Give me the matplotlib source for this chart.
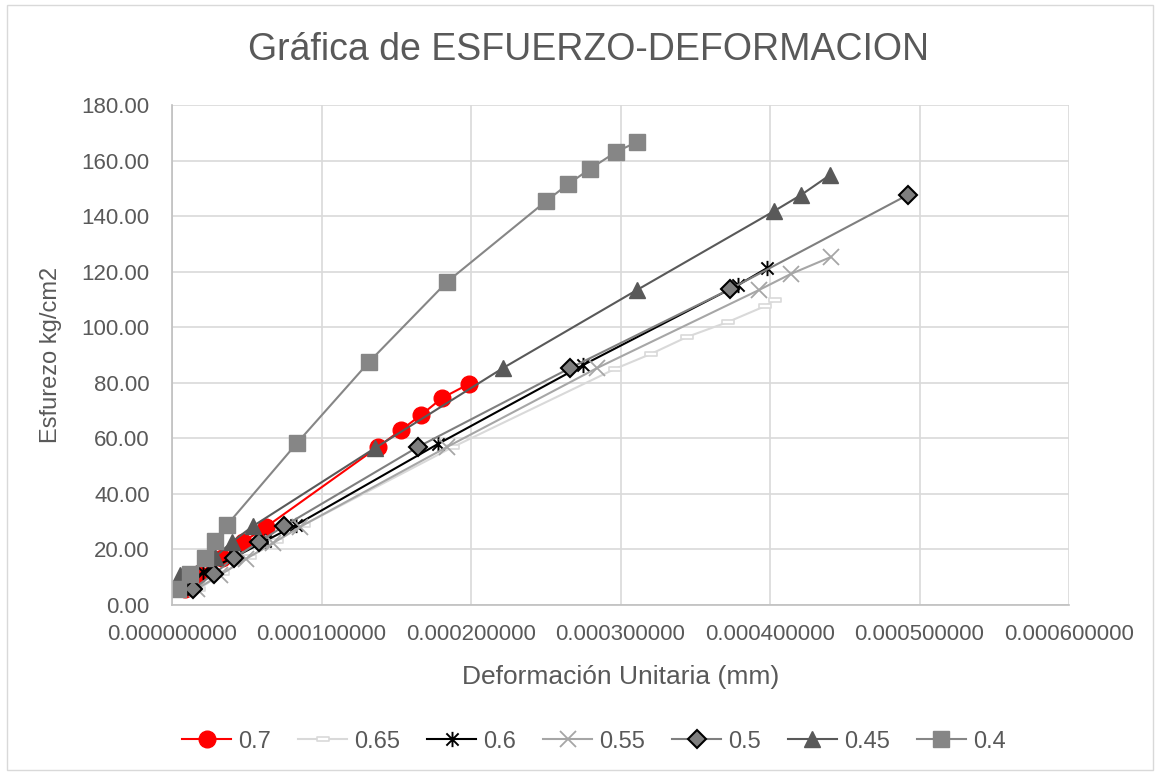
import matplotlib

matplotlib.use("Agg")
import matplotlib.pyplot as plt
from matplotlib.patches import Rectangle
from matplotlib.path import Path
from matplotlib.ticker import FormatStrFormatter, MultipleLocator

plt.rcParams["font.family"] = ["Liberation Sans", "DejaVu Sans"]

TEXT = "#595959"

# strain (mm/mm) and stress (kg/cm2) per water/cement ratio
strain_070 = [0.0000087, 0.0000174, 0.0000334, 0.0000475, 0.0000629,
              0.0001378, 0.0001532, 0.0001666, 0.0001806, 0.0001987]
stress_070 = [5.8, 11.2, 16.9, 22.7, 28.1, 56.9, 63.0, 68.4, 74.5, 79.6]

strain_065 = [0.0000180, 0.0000340, 0.0000520, 0.0000700, 0.0000880, 0.0001880,
              0.0002963, 0.0003204, 0.0003445, 0.0003719, 0.0003967, 0.0004033]
stress_065 = [5.8, 11.5, 17.3, 23.0, 28.8, 56.9, 85.0, 90.4, 96.5, 101.9, 107.6, 109.8]

strain_060 = [0.0000070, 0.0000207, 0.0000421, 0.0000622, 0.0000830,
              0.0001780, 0.0002750, 0.0003786, 0.0003980]
stress_060 = [5.8, 11.9, 17.3, 23.0, 28.8, 58.0, 86.4, 115.2, 121.3]

strain_055 = [0.0000167, 0.0000321, 0.0000495, 0.0000676, 0.0000856,
              0.0001840, 0.0002843, 0.0003926, 0.0004140, 0.0004408]
stress_055 = [5.8, 10.8, 16.6, 22.3, 28.1, 56.9, 85.3, 113.4, 119.2, 125.3]

strain_050 = [0.0000140, 0.0000281, 0.0000415, 0.0000582, 0.0000749,
              0.0001645, 0.0002662, 0.0003732, 0.0004920]
stress_050 = [5.8, 11.2, 16.9, 22.7, 28.4, 56.9, 85.3, 113.7, 147.6]

strain_045 = [0.0000054, 0.0000288, 0.0000401, 0.0000542, 0.0001358,
              0.0002214, 0.0003110, 0.0004027, 0.0004207, 0.0004401]
stress_045 = [10.8, 17.3, 22.7, 28.4, 56.5, 85.3, 113.4, 141.8, 147.6, 154.8]

strain_040 = [0.0000040, 0.0000120, 0.0000221, 0.0000288, 0.0000368, 0.0000836,
              0.0001318, 0.0001839, 0.0002502, 0.0002649, 0.0002796, 0.0002970,
              0.0003110]
stress_040 = [5.8, 11.2, 16.9, 23.0, 28.8, 58.3, 87.5, 116.3, 145.4, 151.5,
              157.0, 163.1, 166.7]

# Excel-like "star" (x with a vertical bar) and "dash" markers
star = Path([(-1, -1), (1, 1), (-1, 1), (1, -1), (0, -1.25), (0, 1.25)],
            [Path.MOVETO, Path.LINETO] * 3)
dash = Path([(-1, -0.4), (1, -0.4), (1, 0.4), (-1, 0.4), (-1, -0.4)],
            [Path.MOVETO, Path.LINETO, Path.LINETO, Path.LINETO, Path.CLOSEPOLY])

series = [
    ("0.7", strain_070, stress_070,
     dict(color="#FF0000", marker="o", ms=12, mfc="#FF0000", mec="#FF0000")),
    ("0.65", strain_065, stress_065,
     dict(color="#D9D9D9", marker=dash, ms=8, mfc="white", mec="#D9D9D9", mew=1.2)),
    ("0.6", strain_060, stress_060,
     dict(color="#000000", marker=star, ms=11, mfc="none", mec="#000000", mew=1.4)),
    ("0.55", strain_055, stress_055,
     dict(color="#A6A6A6", marker="x", ms=11, mec="#A6A6A6", mew=1.3)),
    ("0.5", strain_050, stress_050,
     dict(color="#7F7F7F", marker="D", ms=9, mfc="#7F7F7F", mec="#000000", mew=1.5)),
    ("0.45", strain_045, stress_045,
     dict(color="#595959", marker="^", ms=12, mfc="#595959", mec="#595959")),
    ("0.4", strain_040, stress_040,
     dict(color="#868686", marker="s", ms=11, mfc="#868686", mec="#868686")),
]

fig = plt.figure(figsize=(11.6, 7.75), dpi=100)
ax = fig.add_axes([0.1483, 0.2194, 0.7733, 0.6451])

for name, xs, ys, style in series:
    ax.plot(xs, ys, lw=1.5, label=name, **style)

ax.set_xlim(0, 0.0006)
ax.set_ylim(0, 180)
ax.xaxis.set_major_locator(MultipleLocator(0.0001))
ax.yaxis.set_major_locator(MultipleLocator(20))
ax.xaxis.set_major_formatter(FormatStrFormatter("%.9f"))
ax.yaxis.set_major_formatter(FormatStrFormatter("%.2f"))
ax.grid(True, color="#D9D9D9", lw=1.2)
ax.set_axisbelow(True)
for side in ("top", "right"):
    ax.spines[side].set_visible(False)
for side in ("left", "bottom"):
    ax.spines[side].set_color("#BFBFBF")
    ax.spines[side].set_linewidth(1.2)
ax.tick_params(length=0, labelsize=16, colors=TEXT)
ax.tick_params(axis="y", pad=16)
ax.tick_params(axis="x", pad=14)

# chart title is centred on the whole chart, not on the plot area
fig.text(0.507, 0.935, "Gráfica de ESFUERZO-DEFORMACION", fontsize=27,
         color=TEXT, ha="center", va="center")
ax.set_xlabel("Deformación Unitaria (mm)", fontsize=19, color=TEXT, labelpad=14)
ax.set_ylabel("Esfurezo kg/cm2", fontsize=17, color=TEXT, labelpad=14)

fig.legend(loc="center", bbox_to_anchor=(0.512, 0.043), ncol=7, frameon=False,
           fontsize=17, labelcolor=TEXT, handlelength=2.1, columnspacing=1.12,
           handletextpad=0.3)

# outer chart border
fig.add_artist(Rectangle((0.006, 0.006), 0.988, 0.988, transform=fig.transFigure,
                         fill=False, edgecolor="#D9D9D9", lw=1))

fig.savefig("out.png", dpi=100)
